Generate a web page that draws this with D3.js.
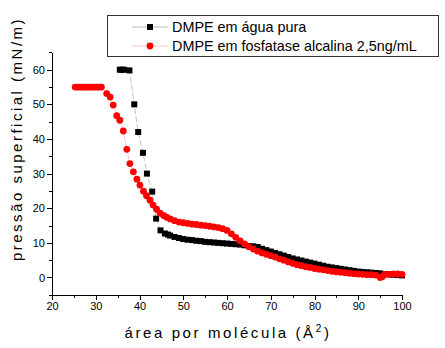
<!DOCTYPE html>
<html>
<head>
<meta charset="utf-8">
<script src="https://cdn.jsdelivr.net/npm/d3@7"></script>
<style>
  body { margin: 0; background: #fff; }
  svg { display: block; font-family: Arial, "Liberation Sans", sans-serif; }
  .axis path, .axis line { stroke: #000; shape-rendering: crispEdges; }
  .axis text { font-size: 11px; fill: #000; }
</style>
</head>
<body>
<svg id="chart" width="445" height="348"></svg>
<script>
// DMPE em água pura
const areaPura = [35.5, 36.0, 36.5, 37.7, 38.8, 39.7, 40.8, 41.7, 42.9, 43.8, 44.8, 45.8,
  46.5, 47, 48, 49, 50, 51, 52, 53, 54, 55, 56, 57, 58, 59, 60, 61, 62, 63, 64, 65,
  66, 67, 68, 69, 70, 71, 72, 73, 74, 75, 76, 77, 78, 79, 80, 81, 82, 83, 84, 85,
  86, 87, 88, 89, 90, 91, 92, 93, 94, 95, 96, 97, 98, 99, 100];
const piPura = [60, 60, 60, 59.8, 50, 42, 36, 30, 24.8, 17, 13.6, 12.7,
  12.4, 12.1, 11.7, 11.4, 11.1, 10.9, 10.8, 10.6, 10.5, 10.3, 10.2, 10.1, 10.0, 9.9, 9.8, 9.7, 9.6, 9.5, 9.3, 9.1,
  9.0, 8.8, 8.3, 7.9, 7.5, 7.1, 6.7, 6.3, 5.9, 5.5, 5.2, 4.9, 4.6, 4.3, 4.0, 3.7, 3.4, 3.1, 2.9, 2.7,
  2.5, 2.3, 2.1, 1.9, 1.7, 1.6, 1.5, 1.4, 1.3, 1.2, 1.0, 0.9, 0.8, 0.7, 0.6];

// DMPE em fosfatase alcalina 2,5ng/mL
const areaFosf = [25.3, 25.8, 26.3, 26.8, 27.3, 27.8, 28.3, 28.8, 29.3, 29.8, 30.3, 30.8, 31.3,
  32.5, 33.3, 34.0, 34.8, 35.5, 36.3, 37.1, 37.8, 38.6, 39.4, 40.1, 40.9, 41.6, 42.4,
  43.1, 43.9, 44.7, 45.5, 46.2, 47, 48, 49, 50, 51, 52, 53, 54, 55, 56, 57, 58, 59,
  60, 61, 62, 63, 64, 65, 66, 67, 68, 69, 70, 71, 72, 73, 74, 75, 76, 77, 78, 79, 80,
  81, 82, 83, 84, 85, 86, 87, 88, 89, 90, 91, 92, 93, 94, 95, 95.5, 96, 97, 98, 99, 100];
const piFosf = [55, 55, 55, 55, 55, 55, 55, 55, 55, 55, 55, 55, 55,
  53.1, 52.1, 49.8, 46.7, 45.4, 42.3, 37.0, 32.9, 30.5, 28.4, 26.7, 24.9, 23.6, 22.3,
  20.9, 19.7, 18.6, 17.9, 17.4, 16.9, 16.4, 16.0, 15.8, 15.6, 15.4, 15.3, 15.1, 15.0, 14.8, 14.6, 14.4, 14.1,
  13.6, 12.6, 11.6, 10.6, 9.7, 8.9, 8.2, 7.6, 7.1, 6.7, 6.3, 5.9, 5.4, 5.0, 4.5, 4.1, 3.7, 3.4, 3.1, 2.9, 2.6,
  2.4, 2.2, 2.0, 1.8, 1.6, 1.5, 1.4, 1.2, 1.1, 1.0, 0.9, 0.8, 0.8, 0.7, 0.0, 0.2, 0.9, 0.9, 1.0, 1.0, 0.9];

const xTicks = [20, 30, 40, 50, 60, 70, 80, 90, 100];
const yTicks = [0, 10, 20, 30, 40, 50, 60];
const legendLabels = ['DMPE em água pura', 'DMPE em fosfatase alcalina 2,5ng/mL'];

const svg = d3.select('#chart');
const x = d3.scaleLinear().domain([20, 100]).range([52, 402]);
const y = d3.scaleLinear().domain([-5, 65]).range([294.8, 52.4]);
const X0 = 52, Y0 = 294.5;

// minor ticks
svg.append('g').attr('class', 'axis')
  .attr('transform', `translate(0,${Y0})`)
  .call(d3.axisBottom(x).tickValues(d3.range(25, 100, 10)).tickSize(3).tickFormat('').tickSizeOuter(0))
  .select('.domain').remove();
svg.append('g').attr('class', 'axis')
  .attr('transform', `translate(${X0},0)`)
  .call(d3.axisLeft(y).tickValues(d3.range(-5, 66, 10)).tickSize(3).tickFormat('').tickSizeOuter(0))
  .select('.domain').remove();

// major axes
svg.append('g').attr('class', 'axis')
  .attr('transform', `translate(0,${Y0})`)
  .call(d3.axisBottom(x).tickValues(xTicks).tickSize(5).tickPadding(3).tickSizeOuter(0));
svg.append('g').attr('class', 'axis')
  .attr('transform', `translate(${X0},0)`)
  .call(d3.axisLeft(y).tickValues(yTicks).tickSize(5).tickPadding(2).tickSizeOuter(0));

const pura = areaPura.map((a, i) => [a, piPura[i]]);
const fosf = areaFosf.map((a, i) => [a, piFosf[i]]);
const line = d3.line().x(d => x(d[0])).y(d => y(d[1]));

svg.append('path').datum(pura).attr('d', line)
  .attr('fill', 'none').attr('stroke', '#aaa').attr('stroke-width', 0.7)
  .attr('stroke-dasharray', '6,2');
svg.append('g').selectAll('rect').data(pura).join('rect')
  .attr('x', d => x(d[0]) - 3).attr('y', d => y(d[1]) - 3)
  .attr('width', 6).attr('height', 6).attr('fill', '#000');

svg.append('path').datum(fosf).attr('d', line)
  .attr('fill', 'none').attr('stroke', '#ffb0b0').attr('stroke-width', 0.7);
svg.append('g').selectAll('circle').data(fosf).join('circle')
  .attr('cx', d => x(d[0])).attr('cy', d => y(d[1]))
  .attr('r', 3.4).attr('fill', '#ff0000');

// axis titles
svg.append('text')
  .attr('x', 228).attr('y', 338)
  .attr('text-anchor', 'middle')
  .style('font-size', '15px').style('letter-spacing', '2.6px')
  .text('área por molécula (Å')
  .append('tspan').attr('dy', -6).style('font-size', '10px').text('2')
  .select(function() { return this.parentNode; })
  .append('tspan').attr('dy', 6).text(')');

svg.append('text')
  .attr('transform', 'translate(22,139) rotate(-90)')
  .attr('text-anchor', 'middle')
  .style('font-size', '15px').style('letter-spacing', '2.5px')
  .text('pressão superficial (mN/m)');

// legend
const lg = svg.append('g');
lg.append('rect').attr('x', 107.5).attr('y', 15.5).attr('width', 331).attr('height', 41)
  .attr('fill', '#fff').attr('stroke', '#333').attr('stroke-width', 1);
const rows = [
  {label: legendLabels[0], stroke: '#aaa', y: 27, shape: 'rect', fill: '#000'},
  {label: legendLabels[1], stroke: '#ffb0b0', y: 46, shape: 'circle', fill: '#ff0000'}
];
rows.forEach(r => {
  lg.append('line').attr('x1', 132).attr('x2', 168).attr('y1', r.y).attr('y2', r.y)
    .attr('stroke', r.stroke).attr('stroke-width', 0.8);
  if (r.shape === 'rect') {
    lg.append('rect').attr('x', 147).attr('y', r.y - 3).attr('width', 6).attr('height', 6).attr('fill', r.fill);
  } else {
    lg.append('circle').attr('cx', 150).attr('cy', r.y).attr('r', 3.4).attr('fill', r.fill);
  }
  lg.append('text').attr('x', 172).attr('y', r.y + 5)
    .style('font-size', '14.4px').text(r.label);
});
</script>
</body>
</html>
